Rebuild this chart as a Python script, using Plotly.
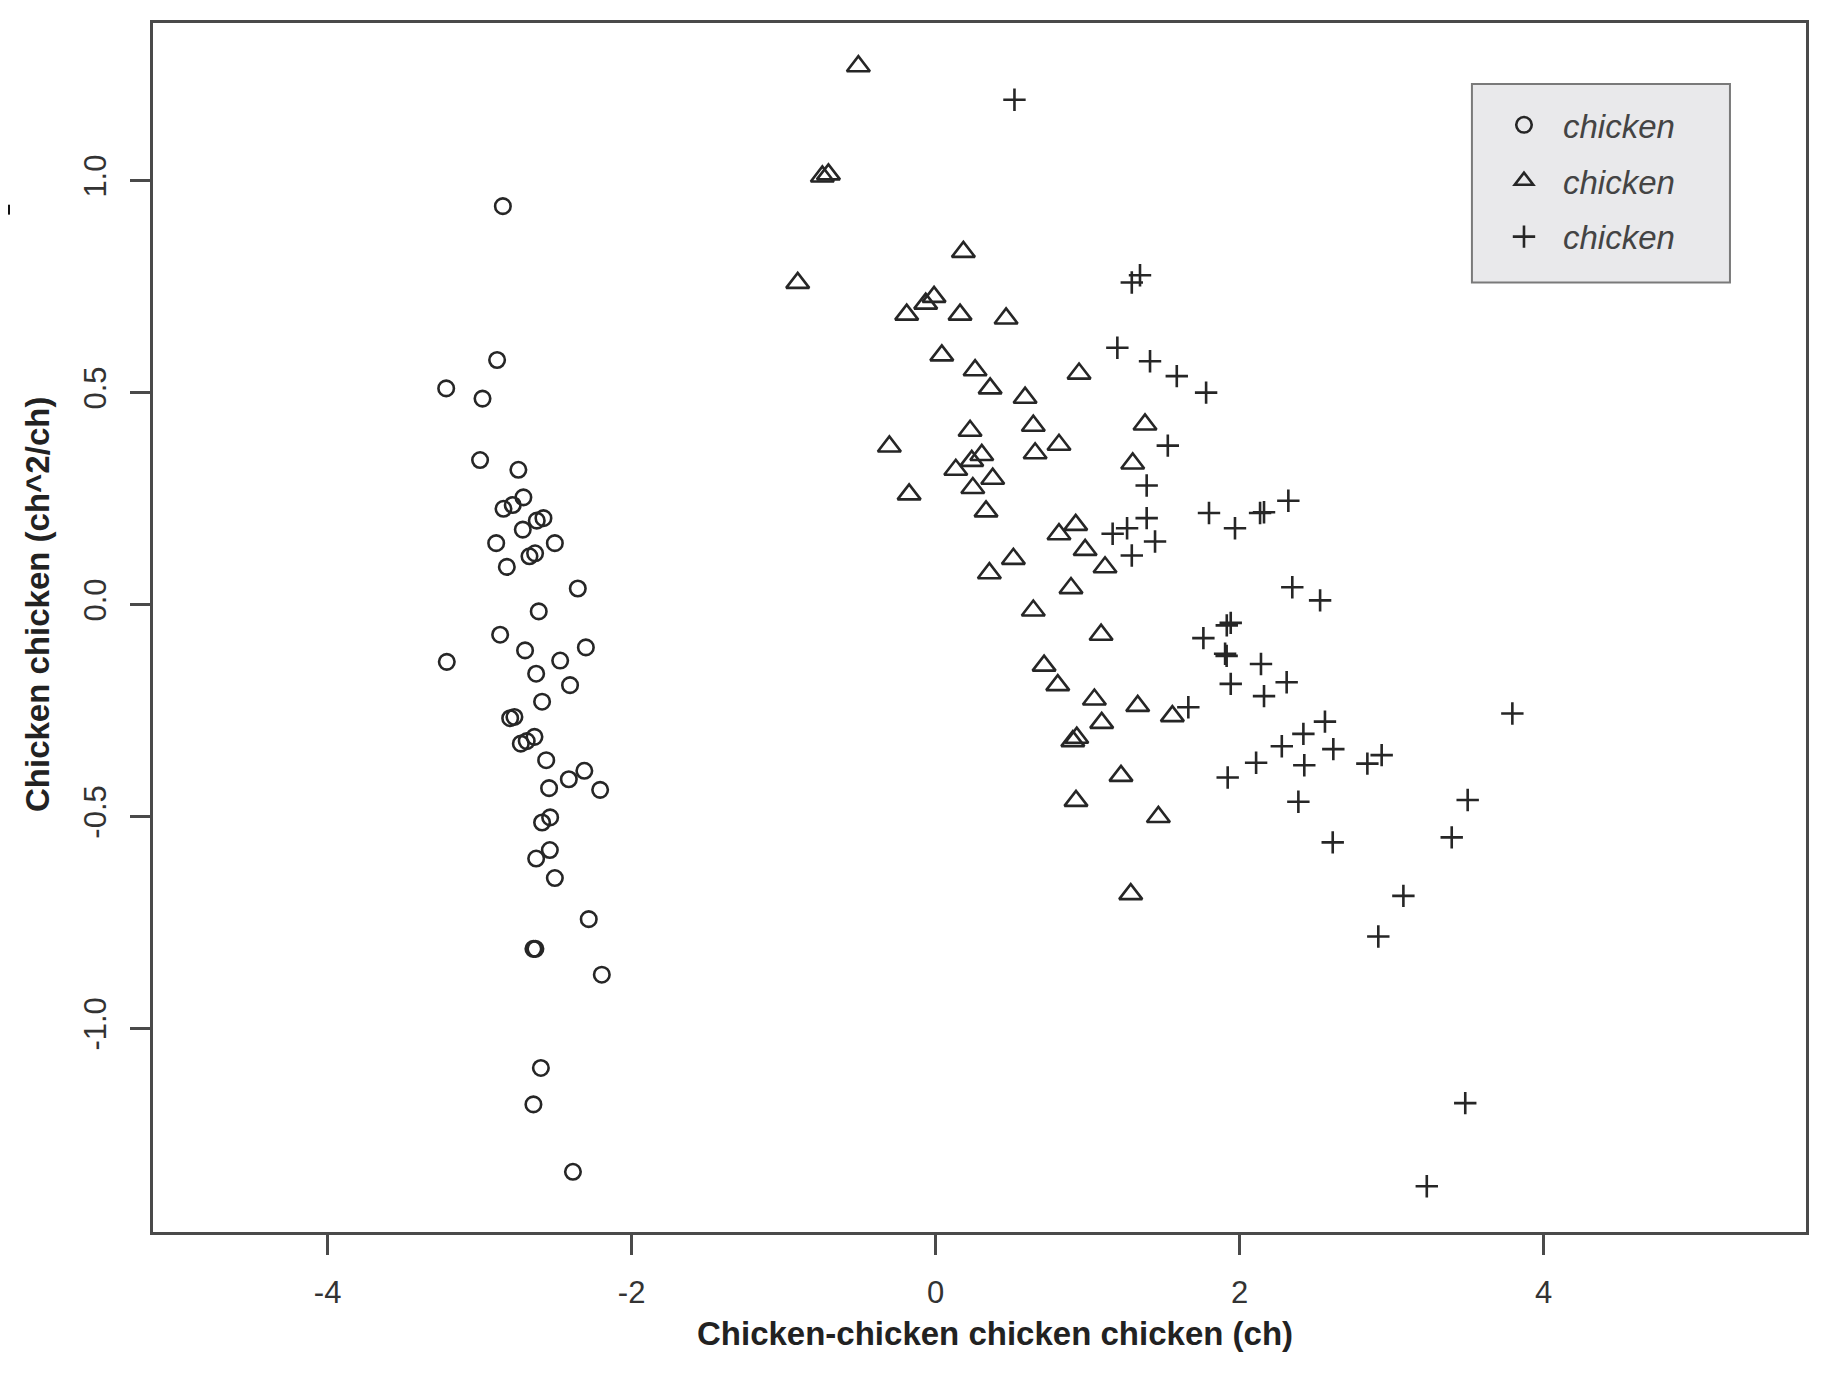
import plotly.graph_objects as go

# ---- data ----
circle_x = [-2.847, -2.885, -3.220, -2.981, -2.997, -2.745, -2.843, -2.782, -2.712, -2.716,
            -2.624, -2.580, -2.891, -2.505, -2.672, -2.635, -2.821, -2.354, -2.611,
            -2.865, -3.216, -2.701, -2.301, -2.470, -2.628, -2.405, -2.589, -2.799, -2.771,
            -2.729, -2.690, -2.639, -2.562, -2.413, -2.311, -2.543, -2.207, -2.589, -2.536,
            -2.628, -2.538, -2.505, -2.282, -2.646, -2.633, -2.196,
            -2.597, -2.646, -2.386]
circle_y = [0.940, 0.577, 0.510, 0.486, 0.341, 0.318, 0.226, 0.235, 0.253, 0.177,
            0.198, 0.204, 0.145, 0.145, 0.114, 0.121, 0.089, 0.038, -0.016,
            -0.071, -0.135, -0.108, -0.101, -0.132, -0.163, -0.190, -0.229, -0.268, -0.265,
            -0.328, -0.322, -0.312, -0.367, -0.412, -0.392, -0.433, -0.437, -0.514, -0.502,
            -0.599, -0.579, -0.645, -0.742, -0.812, -0.812, -0.873,
            -1.093, -1.179, -1.338]

tri_x = [-0.508, -0.745, -0.705, -0.907, 0.183, -0.190, -0.065, -0.010, 0.161, 0.464,
         0.041, 0.260, 0.359, 0.589, 0.944, 1.378, 0.227, 0.643, -0.304, 0.812,
         0.655, 0.304, 0.238, 0.133, 1.297, 0.376, -0.174, 0.245, 0.332,
         0.812, 0.922, 0.984, 0.512, 0.354, 1.115, 0.891, 0.643, 1.089, 0.714,
         0.804, 1.045, 1.330, 1.558, 1.093, 0.929, 0.903, 1.220, 0.924, 1.466, 1.284]
tri_y = [1.270, 1.010, 1.015, 0.759, 0.832, 0.684, 0.710, 0.726, 0.684, 0.675,
         0.588, 0.553, 0.510, 0.488, 0.545, 0.425, 0.410, 0.422, 0.373, 0.377,
         0.357, 0.353, 0.339, 0.318, 0.333, 0.297, 0.260, 0.275, 0.220,
         0.166, 0.188, 0.129, 0.108, 0.074, 0.088, 0.039, -0.014, -0.071, -0.144,
         -0.190, -0.224, -0.239, -0.263, -0.279, -0.314, -0.322, -0.404, -0.463, -0.501, -0.683]

plus_x = [0.519, 1.345, 1.291, 1.196, 1.411, 1.587, 1.528, 1.389,
          1.780, 1.389, 1.799, 1.970, 2.135, 2.161, 2.321, 1.260, 1.165, 1.444,
          1.291, 2.347, 2.530, 1.942, 1.916, 1.762, 1.905, 1.915, 2.141, 1.942, 2.310,
          2.161, 1.663, 2.562, 2.420, 2.278, 2.617, 2.426, 2.109, 1.922, 2.935, 2.841,
          2.387, 2.613, 2.913,
          3.795, 3.501, 3.396, 3.078, 3.485, 3.232]
plus_y = [1.191, 0.777, 0.760, 0.606, 0.574, 0.539, 0.375, 0.281,
          0.500, 0.204, 0.216, 0.180, 0.216, 0.218, 0.245, 0.180, 0.167, 0.149,
          0.116, 0.041, 0.010, -0.043, -0.049, -0.079, -0.116, -0.121, -0.140, -0.187, -0.183,
          -0.216, -0.242, -0.276, -0.305, -0.334, -0.341, -0.379, -0.373, -0.408, -0.355, -0.375,
          -0.465, -0.561, -0.783,
          -0.257, -0.461, -0.549, -0.687, -1.176, -1.372]

series_names = ["chicken", "chicken", "chicken"]
x_ticks = [-4, -2, 0, 2, 4]
y_ticks = [-1.0, -0.5, 0.0, 0.5, 1.0]
x_title = "Chicken-chicken chicken chicken (ch)"
y_title = "Chicken chicken (ch^2/ch)"

# ---- styling ----
FONT = "Liberation Sans, Arial, Helvetica, sans-serif"
INK = "#262626"
FRAME = "#4a4a4a"

fig = go.Figure()
fig.add_trace(go.Scatter(x=circle_x, y=circle_y, mode="markers", name=series_names[0],
                         legendgroup="a",
                         marker=dict(symbol="circle-open", size=15.5, color=INK,
                                     line=dict(width=2.6, color=INK))))
fig.add_trace(go.Scatter(x=tri_x, y=tri_y, mode="markers", name=series_names[1],
                         legendgroup="b",
                         marker=dict(symbol="triangle-up-open", size=20, color=INK,
                                     line=dict(width=2.6, color=INK))))
fig.add_trace(go.Scatter(x=plus_x, y=plus_y, mode="markers", name=series_names[2],
                         legendgroup="c",
                         marker=dict(symbol="cross-thin-open", size=16, color=INK,
                                     line=dict(width=2.6, color=INK))))

axis_common = dict(showgrid=False, zeroline=False, showline=True, mirror=True,
                   linecolor=FRAME, linewidth=2.5, ticks="outside", ticklen=20,
                   tickwidth=2.5, tickcolor=FRAME,
                   tickfont=dict(family=FONT, size=31, color="#333333"))

# the page body has an 8px margin: size the figure so the page is 1830x1376
fig.update_layout(
    width=1822, height=1368,
    margin=dict(l=145, r=24, t=13, b=144),
    paper_bgcolor="white", plot_bgcolor="white",
    showlegend=True,
    legend=dict(x=0.8058, y=0.9389, xanchor="left", yanchor="top",
                bgcolor="rgba(0,0,0,0)", borderwidth=0,
                font=dict(family=FONT, size=33, color="#444444", style="italic"),
                tracegroupgap=10, indentation=0, itemwidth=68, traceorder="grouped"),
    xaxis=dict(range=[-5.149, 5.727], tickvals=x_ticks,
               ticktext=[str(v) for v in x_ticks], ticklabelstandoff=11, **axis_common),
    yaxis=dict(range=[-1.480, 1.372], tickvals=y_ticks,
               ticktext=[f"{v:.1f}" for v in y_ticks], tickangle=-90,
               ticklabelstandoff=12, **axis_common),
    annotations=[
        dict(text=f"<b>{x_title}</b>", xref="paper", yref="paper", x=0.5094, y=0,
             xanchor="center", yanchor="middle", yshift=-101, showarrow=False,
             font=dict(family=FONT, size=33, color="#222222")),
        dict(text=f"<b>{y_title}</b>", xref="paper", yref="paper", x=0, y=0.5186,
             xanchor="center", yanchor="middle", xshift=-116, textangle=-90,
             showarrow=False, font=dict(family=FONT, size=33, color="#222222")),
    ],
    shapes=[
        dict(type="rect", xref="paper", yref="paper", x0=-0.0907, x1=-0.0865,
             y0=0.8415, y1=0.8497, fillcolor="#111111", line=dict(width=0)),
        # legend box
        dict(type="rect", xref="paper", yref="paper", x0=0.7979, x1=0.9540,
             y0=0.7853, y1=0.9496, fillcolor="#e9e9eb",
             line=dict(color="#7a7a7a", width=2), layer="above"),
    ],
)

fig.write_html("out.html")
